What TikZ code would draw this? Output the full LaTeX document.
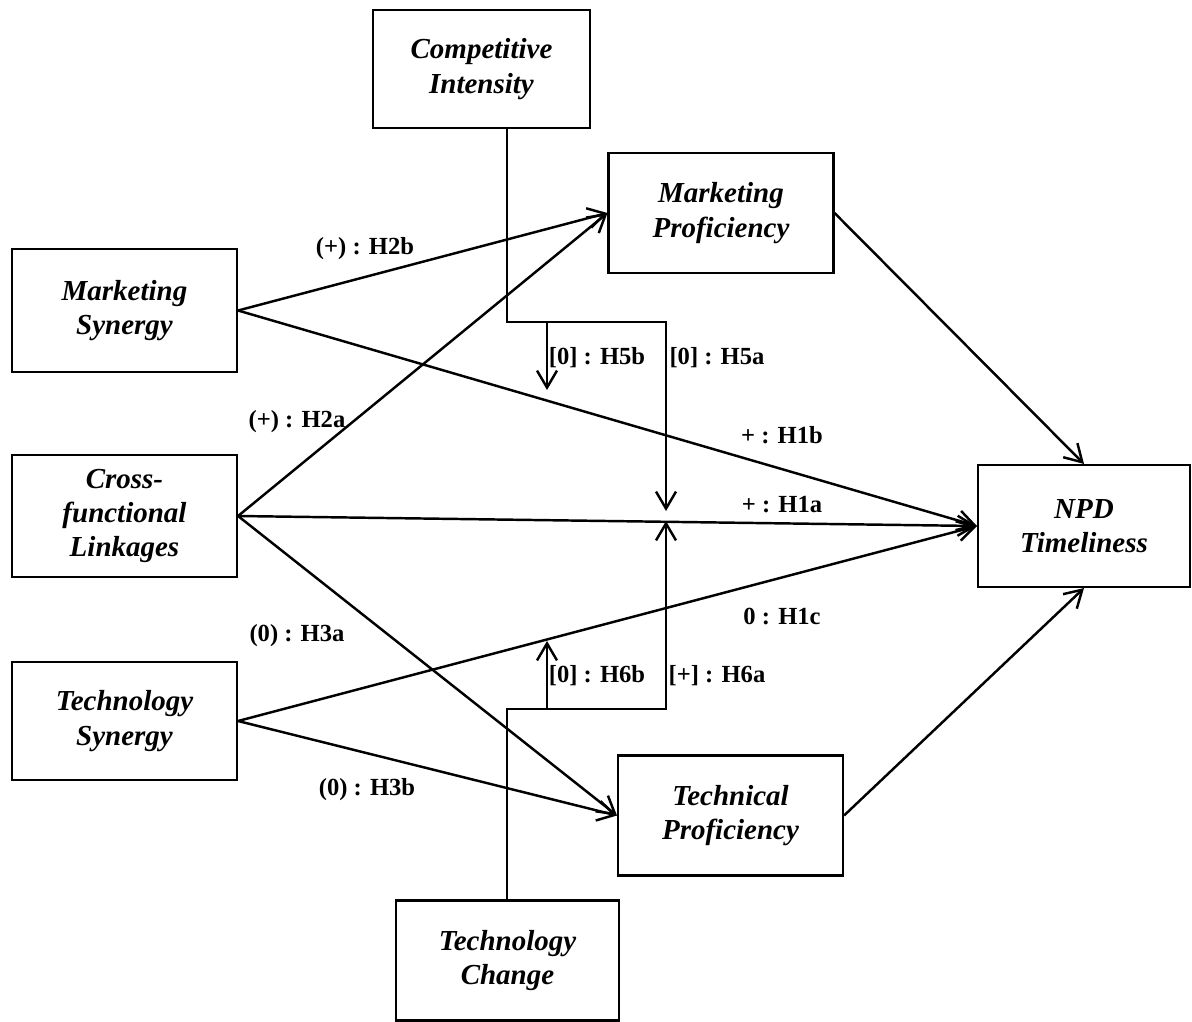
\documentclass[tikz,border=0pt]{standalone}
\usepackage{fontspec}
\setmainfont{Liberation Serif}
\usetikzlibrary{arrows.meta,positioning,calc}

\begin{document}
\begin{tikzpicture}[x=0.02cm, y=-0.02cm,
		construct/.style={draw, line width=1.2pt, inner sep=0pt, align=center,
			minimum width=4.5cm, minimum height=2.4cm,
			font=\fontsize{16.5}{19.5}\selectfont\bfseries\itshape},
		hyp/.style={line width=1.4pt, -{Straight Barb[length=0.34cm, width=0.4cm, line width=1.4pt]}},
		hlabel/.style={inner sep=0pt, font=\fontsize{14}{16}\selectfont\bfseries}]

		\useasboundingbox (0,0) rectangle (1192,1021);

		% Constructs
		\node[construct, minimum width=4.34cm, minimum height=2.36cm] (ci) at (481.5,69) {Competitive\\Intensity};
		\node[construct] (mp) at (721,213) {Marketing\\Proficiency};
		\node[construct, minimum height=2.46cm] (ms) at (124.5,310.5) {Marketing\\Synergy};
		\node[construct, minimum height=2.44cm] (cl) at (124.5,516) {Cross-\\functional\\Linkages};
		\node[construct, minimum height=2.36cm] (ts) at (124.5,721) {Technology\\Synergy};
		\node[construct] (tp) at (730.5,815.5) {Technical\\Proficiency};
		\node[construct, minimum width=4.46cm] (tc) at (507.5,960.5) {Technology\\Change};
		\node[construct, minimum width=4.24cm, minimum height=2.44cm] (npd) at (1084,526) {NPD\\Timeliness};

		% Main effects
		\draw[hyp] (ms.east) -- (mp.west);
		\draw[hyp] (cl.east) -- (mp.west);
		\draw[hyp] (ms.east) -- (npd.west);
		\draw[hyp] (cl.east) -- (npd.west);
		\draw[hyp] (ts.east) -- (npd.west);
		\draw[hyp] (cl.east) -- (tp.west);
		\draw[hyp] (ts.east) -- (tp.west);
		\draw[hyp] (mp.east) -- (npd.north);
		\draw[hyp] (tp.east) -- (npd.south);

		% Moderators
		\coordinate (cibend) at (507,322);
		\coordinate (cicorner) at (666,322);
		\coordinate (h5b) at (547,390);
		\coordinate (h5a) at (666,511);
		\draw[hyp] (ci.south -| cibend) -- (cibend) -- (cicorner) -- (h5a);
		\draw[hyp] (cibend -| h5b) -- (h5b);

		\coordinate (tcbend) at (507,709);
		\coordinate (tccorner) at (666,709);
		\coordinate (h6b) at (547,641);
		\coordinate (h6a) at (666,521);
		\draw[hyp] (tc.north -| tcbend) -- (tcbend) -- (tccorner) -- (h6a);
		\draw[hyp] (tcbend -| h6b) -- (h6b);

		% Labels
		\node[hlabel] (l2b) at (365,249) {(+) : H2b};
		\node[hlabel] (l2a) at (297,422) {(+) : H2a};
		\node[hlabel] (l5b) at (597,358) {[0] : H5b};
		\node[hlabel] (l5a) at (717,358) {[0] : H5a};
		\node[hlabel] (l1b) at (782,435) {+ : H1b};
		\node[hlabel] (l1a) at (782,505) {+ : H1a};
		\node[hlabel] (l1c) at (782,616) {0 : H1c};
		\node[hlabel] (l3a) at (297,636) {(0) : H3a};
		\node[hlabel] (l6b) at (597,676) {[0] : H6b};
		\node[hlabel] (l6a) at (717,676) {[+] : H6a};
		\node[hlabel] (l3b) at (367,790) {(0) : H3b};

	\end{tikzpicture}
\end{document}
